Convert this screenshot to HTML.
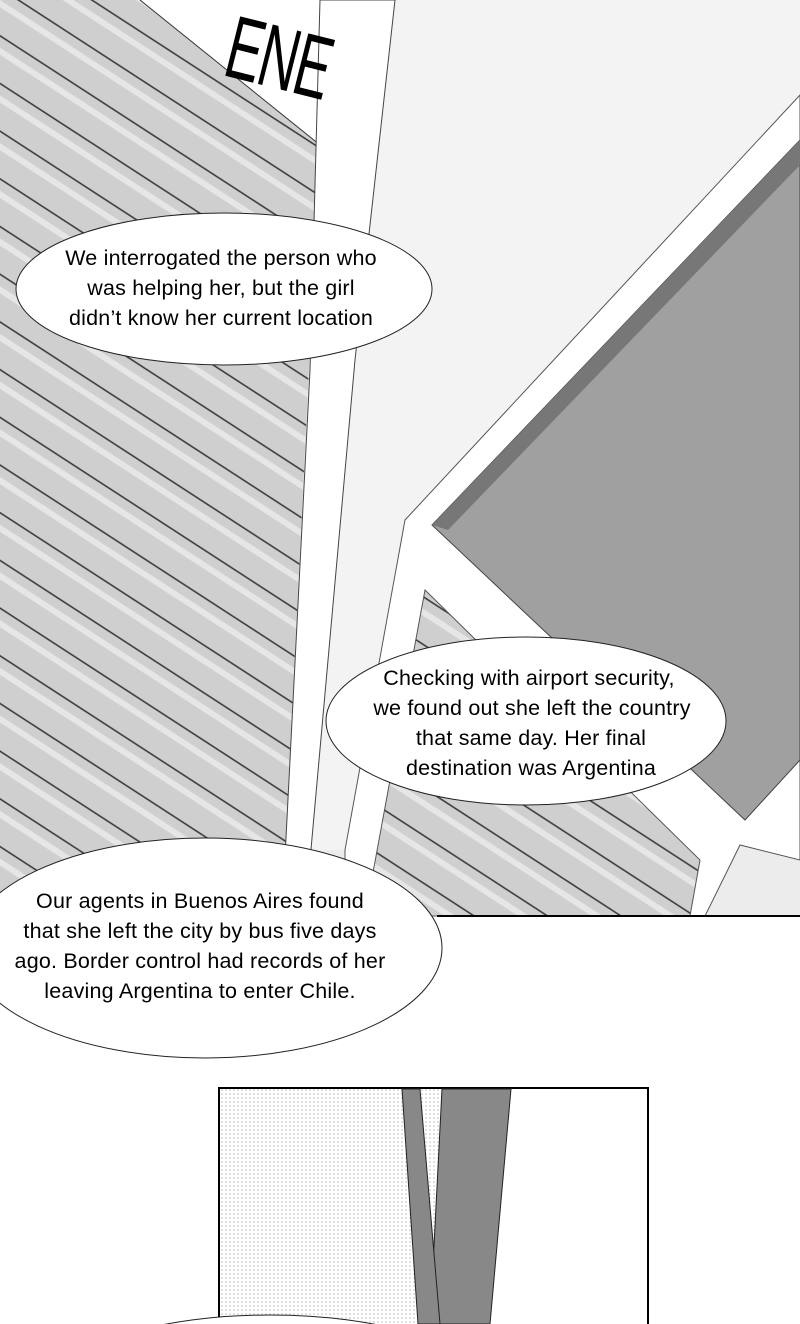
<!DOCTYPE html>
<html><head><style>
html,body{margin:0;padding:0;background:#fff;overflow:hidden;width:800px;height:1324px}
svg{display:block}
text{font-family:"Liberation Sans",sans-serif;font-size:21.5px;fill:#000;letter-spacing:0.2px}
</style></head><body>
<svg width="800" height="1324" viewBox="0 0 800 1324" xmlns="http://www.w3.org/2000/svg" overflow="hidden">
<defs>
<pattern id="st" width="40" height="40" patternUnits="userSpaceOnUse" patternTransform="rotate(33)">
<rect width="40" height="40" fill="#cfcfcf"/>
<rect y="0" width="40" height="6" fill="#e6e6e6"/>
<line x1="0" y1="30" x2="40" y2="30" stroke="#333" stroke-width="1.5"/>
</pattern>
<pattern id="dots" width="4" height="4" patternUnits="userSpaceOnUse">
<rect width="4" height="4" fill="#fff"/><circle cx="2" cy="2" r="0.8" fill="#bbb"/>
</pattern>
</defs>
<rect x="0" y="0" width="800" height="916" fill="#ececec"/>
<polygon points="395,0 800,0 800,100 440,520 345,850 300,850" fill="#f3f3f3"/>
<polygon points="0,0 140,0 320,145 282,916 0,916" fill="url(#st)"/>
<polygon points="140,0 320,0 320,145" fill="#fff"/>
<line x1="140" y1="0" x2="320" y2="145" stroke="#333"/>
<polygon points="320,0 395,0 355,360 305,916 282,916 310,370" fill="#fff" stroke="#444"/>
<text x="205" y="70" style="font-size:66px;letter-spacing:-2px" transform="rotate(14 250 50) scale(0.8 1.35) translate(80,-10)">ENE</text>
<polygon points="800,95 800,860 740,845 705,916 345,916 345,850 405,520" fill="#fff" stroke="#555"/>
<polygon points="800,140 800,760 745,820 432,525" fill="#a0a0a0" stroke="#444"/>
<polygon points="800,140 432,525 448,530 800,165" fill="#777"/>
<polygon points="425,590 700,860 690,916 365,916" fill="url(#st)" stroke="#555"/>
<line x1="437" y1="916" x2="800" y2="916" stroke="#000" stroke-width="2"/>
<rect x="0" y="917" width="800" height="407" fill="#fff"/>
<rect x="219" y="1088" width="429" height="240" fill="url(#dots)" stroke="#000" stroke-width="2"/>
<polygon points="510,1089 647,1089 647,1324 490,1324" fill="#fff"/>
<polygon points="442,1089 511,1089 490,1324 430,1324" fill="#888" stroke="#222"/>
<polygon points="402,1089 420,1089 440,1324 418,1324" fill="#888" stroke="#222"/>
<ellipse cx="224" cy="289" rx="208" ry="76" fill="#fff" stroke="#222"/>
<text text-anchor="middle" x="221" y="265">We interrogated the person who</text>
<text text-anchor="middle" x="221" y="295">was helping her, but the girl</text>
<text text-anchor="middle" x="221" y="325">didn’t know her current location</text>
<ellipse cx="526" cy="721" rx="200" ry="84" fill="#fff" stroke="#222"/>
<text text-anchor="middle" x="529" y="685">Checking with airport security,</text>
<text text-anchor="middle" x="532" y="715">we found out she left the country</text>
<text text-anchor="middle" x="531" y="745">that same day. Her final</text>
<text text-anchor="middle" x="531" y="775">destination was Argentina</text>
<ellipse cx="205" cy="948" rx="237" ry="110" fill="#fff" stroke="#222"/>
<text text-anchor="middle" x="200" y="908">Our agents in Buenos Aires found</text>
<text text-anchor="middle" x="200" y="938">that she left the city by bus five days</text>
<text text-anchor="middle" x="200" y="968">ago. Border control had records of her</text>
<text text-anchor="middle" x="200" y="998">leaving Argentina to enter Chile.</text>
<ellipse cx="270" cy="1385" rx="210" ry="70" fill="#fff" stroke="#222"/>
</svg>
</body></html>
